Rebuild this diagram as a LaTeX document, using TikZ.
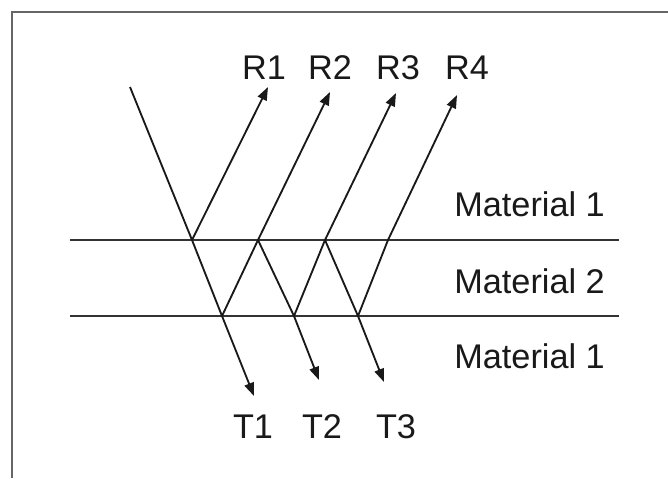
\documentclass[tikz,border=0pt]{standalone}
\usepackage{fontspec}
\setmainfont{Liberation Sans}
\usetikzlibrary{positioning,arrows.meta}

\begin{document}
\begin{tikzpicture}[x=0.02cm, y=-0.02cm,
    ray/.style={line width=1.05pt, draw=black!90},
    arr/.style={ray, -{Triangle[length=7.5pt, width=5.5pt]}},
    iface/.style={line width=1.2pt, draw=black!80},
    frame/.style={line width=1.2pt, draw=black!60},
    lbl/.style={font=\fontsize{19.5}{23}\selectfont, text=black!90, inner sep=0pt}
]
\useasboundingbox (0,0) rectangle (668,478);
\draw[frame] (12,478) -- (12,12) -- (668,12);

% interfaces
\coordinate (i1l) at (70,240);
\coordinate (i1r) at (619,240);
\coordinate (i2l) at (70,316);
\coordinate (i2r) at (619,316);
\draw[iface] (i1l) -- (i1r);
\draw[iface] (i2l) -- (i2r);

% hit points
\coordinate (src) at (130,87);
\coordinate (a1) at (192,240);
\coordinate (a2) at (258,240);
\coordinate (a3) at (325,240);
\coordinate (a4) at (388,240);
\coordinate (b1) at (222,316);
\coordinate (b2) at (294,316);
\coordinate (b3) at (358,316);

% ray ends
\coordinate (eR1) at (268,87);
\coordinate (eR2) at (330,92);
\coordinate (eR3) at (396,93);
\coordinate (eR4) at (457,95);
\coordinate (eT1) at (254,396);
\coordinate (eT2) at (319,380);
\coordinate (eT3) at (384,382);

\node[lbl] (R1) at (264,68) {R1};
\node[lbl] (R2) at (330,68) {R2};
\node[lbl] (R3) at (398,68) {R3};
\node[lbl] (R4) at (467,68) {R4};
\node[lbl] (T1) at (253,427) {T1};
\node[lbl] (T2) at (322,427) {T2};
\node[lbl] (T3) at (396,427) {T3};
\node[lbl, anchor=west] (m1) at (454,204) {Material 1};
\node[lbl, anchor=west] (m2) at (454,281) {Material 2};
\node[lbl, anchor=west] (m3) at (454,356) {Material 1};

\draw[ray] (src) -- (a1);
\draw[arr] (a1) -- (eR1);
\draw[ray] (a1) -- (b1);
\draw[arr] (b1) -- (eT1);
\draw[arr] (b1) -- (a2) -- (eR2);
\draw[ray] (a2) -- (b2);
\draw[arr] (b2) -- (eT2);
\draw[arr] (b2) -- (a3) -- (eR3);
\draw[ray] (a3) -- (b3);
\draw[arr] (b3) -- (eT3);
\draw[arr] (b3) -- (a4) -- (eR4);
\end{tikzpicture}
\end{document}
